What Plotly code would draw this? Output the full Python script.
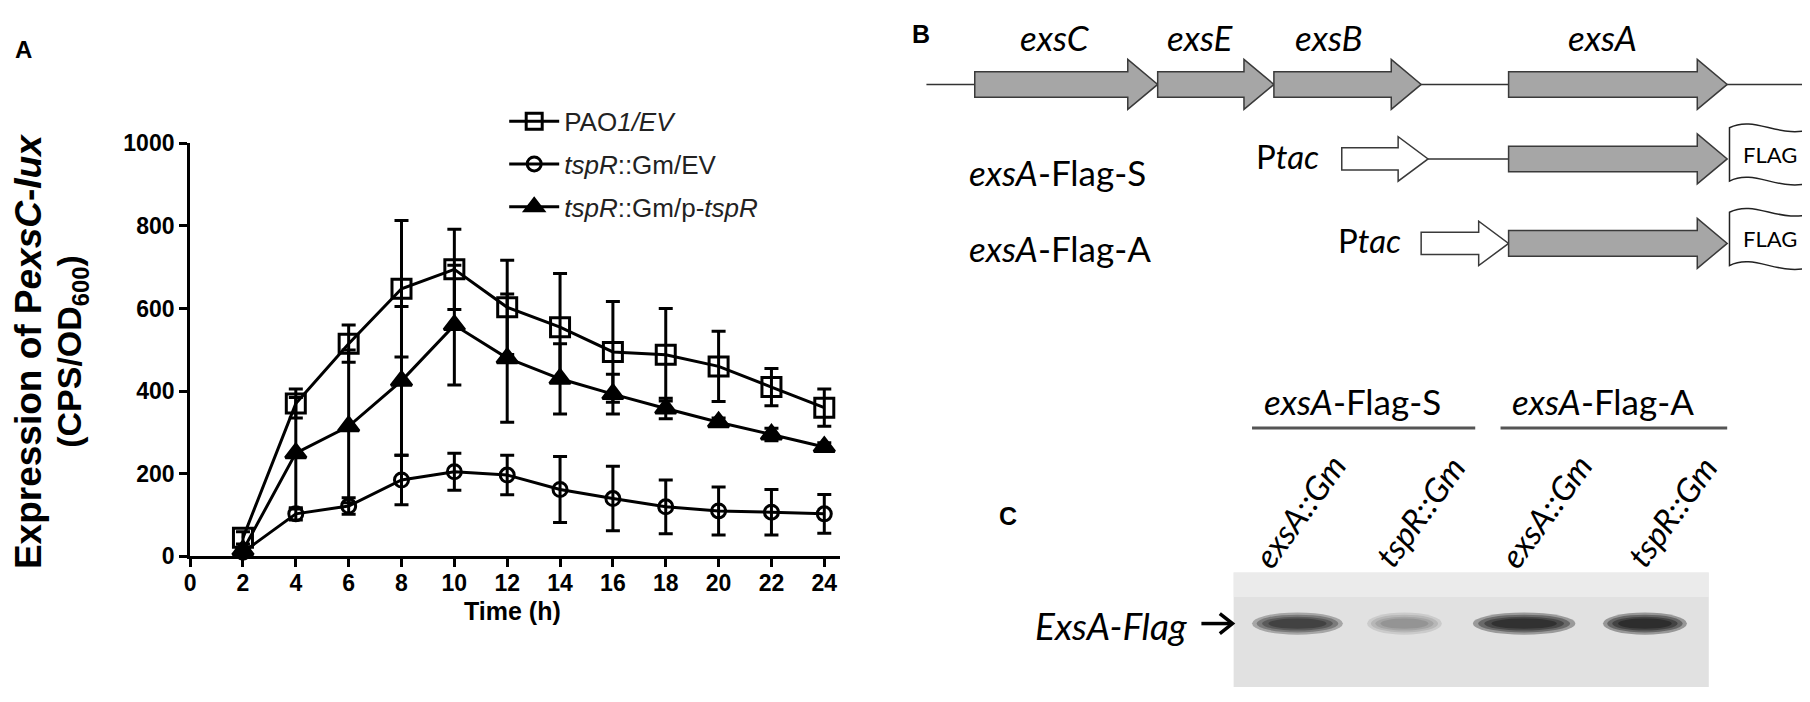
import plotly.graph_objects as go

W, H = 1810, 702
S = W / 1568  # positions below were measured on a 1568-wide view of the figure
M = 8         # page body margin, taken off so the figure lands where measured

# panel A values
time_h = [2, 4, 6, 8, 10, 12, 14, 16, 18, 20, 22, 24]
pao1_ev = [45, 370, 515, 648, 695, 603, 555, 495, 488, 460, 410, 360]
pao1_ev_sd = [15, 35, 45, 165, 97, 114, 130, 122, 112, 85, 45, 45]
tspr_ev = [10, 103, 122, 185, 205, 197, 162, 140, 120, 110, 107, 103]
tspr_ev_sd = [8, 15, 20, 60, 45, 48, 80, 78, 65, 58, 55, 47]
tspr_comp = [15, 250, 315, 425, 560, 480, 430, 393, 358, 325, 295, 265]
tspr_comp_sd = [8, 135, 185, 180, 145, 155, 85, 48, 25, 10, 15, 10]
series_names = ["PAO<i>1/EV</i>", "<i>tspR</i>::Gm/EV", "<i>tspR</i>::Gm/p-<i>tspR</i>"]
x_ticks = list(range(0, 25, 2))
y_ticks = [0, 200, 400, 600, 800, 1000]

# panel B / C content
genes = ["exsC", "exsE", "exsB", "exsA"]
constructs = ["<i>exsA</i>-Flag-S", "<i>exsA</i>-Flag-A"]
lanes = ["exsA::Gm", "tspR::Gm", "exsA::Gm", "tspR::Gm"]
band_strength = [0.8, 0.3, 0.95, 1.0]

ARIAL = "Liberation Sans, Arial"
CAL = "Lato, Open Sans"


def px(x):
    return (x * S - M) / W


def py(y):
    return 1 - (y * S - M) / H


def pt(x, y):
    return f"{px(x):.5f},{py(y):.5f}"


def arrow_path(x0, x1, yc, body, head, head_len):
    xa = x1 - head_len
    pts = [(x0, yc - body), (xa, yc - body), (xa, yc - head), (x1, yc),
           (xa, yc + head), (xa, yc + body), (x0, yc + body)]
    return "M " + " L ".join(pt(x, y) for x, y in pts) + " Z"


def flag_path(x0, yc, w=75, hh=24, amp=12):
    x1 = x0 + w
    t, b = yc - hh, yc + hh
    return (f"M {pt(x0, t)} C {pt(x0 + w * 0.3, t - amp)} {pt(x0 + w * 0.6, t + amp)} {pt(x1, t)} "
            f"L {pt(x1, b)} C {pt(x0 + w * 0.6, b + amp)} {pt(x0 + w * 0.3, b - amp)} {pt(x0, b)} Z")


fig = go.Figure()

styles = [
    (pao1_ev, pao1_ev_sd, dict(symbol="square-open", size=19)),
    (tspr_ev, tspr_ev_sd, dict(symbol="circle-open", size=14)),
    (tspr_comp, tspr_comp_sd, dict(symbol="triangle-up", size=18)),
]
for i, ((vals, sd, mk), name) in enumerate(zip(styles, series_names)):
    fig.add_trace(go.Scatter(
        x=time_h, y=vals, name=name, mode="lines+markers", legendgroup=f"g{i}",
        line=dict(color="black", width=3),
        marker=dict(color="black", line=dict(color="black", width=3), **mk),
        error_y=dict(type="data", array=sd, color="black", thickness=3, width=7),
        cliponaxis=False,
    ))

axis_font = dict(family=ARIAL, size=23, color="black", weight="bold")
fig.update_layout(
    width=W, height=H, margin=dict(l=0, r=0, t=0, b=0),
    paper_bgcolor="white", plot_bgcolor="white",
    showlegend=True,
    legend=dict(x=px(433), y=py(76), xanchor="left", yanchor="top",
                font=dict(family=ARIAL, size=26, color="#222"),
                bgcolor="rgba(0,0,0,0)", itemwidth=50, tracegroupgap=6),
    xaxis=dict(domain=[px(160), px(725)], range=[0, 24.6], tickvals=x_ticks,
               ticks="outside", ticklen=8, tickwidth=3, tickcolor="black",
               showline=True, linewidth=3, linecolor="black", ticklabelstandoff=-4,
               showgrid=False, zeroline=False, tickfont=axis_font,
               anchor="y", fixedrange=True),
    yaxis=dict(domain=[py(488.6), py(117)], range=[0, 1000], tickvals=y_ticks,
               anchor="x", ticks="outside", ticklen=8, tickwidth=3, tickcolor="black",
               showline=True, linewidth=3, linecolor="black",
               showgrid=False, zeroline=False, tickfont=axis_font, fixedrange=True),
)

ann = []
shapes = []


def text(x, y, s, size, family=CAL, weight="normal", xanchor="center", angle=0, color="black"):
    ann.append(dict(x=px(x), y=py(y), xref="paper", yref="paper", text=s, showarrow=False,
                    xanchor=xanchor, yanchor="middle", textangle=angle,
                    font=dict(family=family, size=size, color=color, weight=weight)))


def line(x0, y0, x1, y1, color="#333", width=1.5):
    shapes.append(dict(type="line", xref="paper", yref="paper", x0=px(x0), x1=px(x1),
                       y0=py(y0), y1=py(y1), line=dict(color=color, width=width)))


def path(d, fill, color="#3a3a3a", width=1.5):
    shapes.append(dict(type="path", xref="paper", yref="paper", path=d,
                       fillcolor=fill, line=dict(color=color, width=width)))


# panel A labels
text(15, 33, "A", 24, ARIAL, "bold")
text(19, 304, "Expression of P<i>exsC</i>-<i>lux</i>", 37, ARIAL, "bold", angle=-90)
text(57, 304, "(CPS/OD<sub>600</sub>)", 34, ARIAL, "bold", angle=-90)
text(440, 538, "Time (h)", 25, ARIAL, "bold")

# panel B: operon
text(795, 19, "B", 25, ARIAL, "bold")
line(800, 64, 1575, 64)
gene_span = [(842, 1001), (1001, 1102), (1102, 1230), (1306, 1496)]
gene_label_x = [912, 1038, 1150, 1388]
for g, (a, b), lx in zip(genes, gene_span, gene_label_x):
    path(arrow_path(a, b, 64, 11.5, 22.5, 26), "#a6a6a6")
    text(lx, 21, f"<i>{g}</i>", 35)

# panel B: constructs
row_y = [131, 207]
label_y = [143, 211]
ptac_span = [(1161, 1236), (1230, 1306)]
ptac_text_x = [1143, 1214]
exsa_span = (1306, 1496)
for i, name in enumerate(constructs):
    yc = row_y[i]
    text(835, label_y[i], name, 35, xanchor="left")
    text(ptac_text_x[i], yc - 3, "P<i>tac</i>", 33, xanchor="right")
    if ptac_span[i][1] < exsa_span[0]:
        line(ptac_span[i][1], yc, exsa_span[0], yc)
    path(arrow_path(ptac_span[i][0], ptac_span[i][1], yc, 10, 20, 26), "white")
    path(arrow_path(exsa_span[0], exsa_span[1], yc, 11.5, 22.5, 26), "#a6a6a6")
    path(flag_path(1498, yc - 4), "white", "#222")
    text(1533, yc - 4, "FLAG", 22)

# panel C: western blot
text(871, 452, "C", 25, ARIAL, "bold")
text(1170, 349, constructs[0], 35)
text(1388, 349, constructs[1], 35)
line(1083, 373, 1277, 373, "#555", 3)
line(1299, 373, 1496, 373, "#555", 3)
lane_label_x = [1124, 1229, 1338, 1448]
for lab, cx in zip(lanes, lane_label_x):
    text(cx, 448, f"<i>{lab}</i>", 33, angle=-54)

shapes.append(dict(type="rect", xref="paper", yref="paper", x0=px(1067), x1=px(1480),
                   y0=py(606), y1=py(503), fillcolor="#e1e1e1", line=dict(width=0), layer="above"))
shapes.append(dict(type="rect", xref="paper", yref="paper", x0=px(1067), x1=px(1480),
                   y0=py(525), y1=py(503), fillcolor="#f2f2f2", opacity=0.6, line=dict(width=0),
                   layer="above"))
band_x = [(1083, 1162), (1183, 1248), (1275, 1364), (1388, 1461)]
for s, (a, b) in zip(band_strength, band_x):
    cx, hw = (a + b) / 2, (b - a) / 2
    for sw, sh in [(1.0, 1.0), (0.9, 0.8), (0.78, 0.62), (0.64, 0.46)]:
        shapes.append(dict(type="circle", xref="paper", yref="paper",
                           x0=px(cx - hw * sw), x1=px(cx + hw * sw),
                           y0=py(549 + 10 * sh), y1=py(549 - 10 * sh),
                           fillcolor="black", opacity=0.33 * s, line=dict(width=0), layer="above"))
text(1029, 551, "<i>ExsA-Flag</i>", 37, xanchor="right")
line(1039, 549, 1064, 549, "black", 3.5)
shapes.append(dict(type="path", xref="paper", yref="paper",
                   path=f"M {pt(1055, 540)} L {pt(1066, 549)} L {pt(1055, 558)}",
                   line=dict(color="black", width=3.5)))

fig.update_layout(annotations=ann, shapes=shapes)
fig.write_html("out.html")
